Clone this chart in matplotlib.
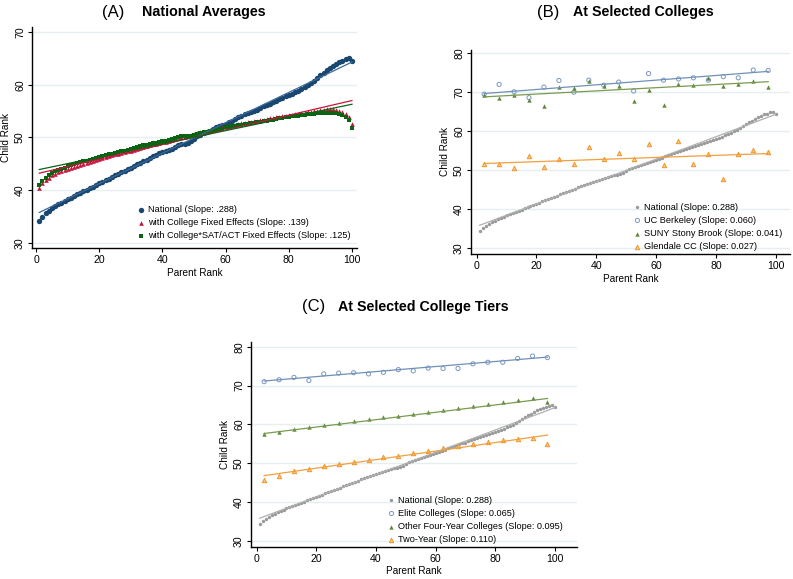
import numpy as np
import matplotlib
matplotlib.use("Agg")
import matplotlib.pyplot as plt

plt.rcParams['font.family'] = ['Liberation Sans', 'DejaVu Sans']

# ---------------- data ----------------
parent_rank = list(range(1, 101))
national = [34.2, 35.0, 35.7, 36.1, 36.6, 37.0, 37.3, 37.6, 38.0, 38.3,
            38.6, 38.9, 39.2, 39.5, 39.8, 40.1, 40.4, 40.7, 41.0, 41.3,
            41.6, 41.9, 42.2, 42.5, 42.8, 43.1, 43.4, 43.7, 44.0, 44.3,
            44.6, 44.9, 45.2, 45.5, 45.8, 46.1, 46.4, 46.7, 47.0, 47.2,
            47.4, 47.6, 47.9, 48.2, 48.5, 48.7, 48.8, 48.9, 49.3, 49.8,
            50.2, 50.5, 50.8, 51.0, 51.3, 51.6, 51.9, 52.1, 52.3, 52.6,
            52.9, 53.2, 53.5, 53.8, 54.1, 54.4, 54.6, 54.8, 55.1, 55.3,
            55.6, 55.9, 56.2, 56.4, 56.7, 57.0, 57.2, 57.5, 57.8, 58.0,
            58.3, 58.6, 58.9, 59.2, 59.5, 59.9, 60.3, 60.8, 61.3, 61.8,
            62.3, 62.7, 63.2, 63.6, 64.0, 64.3, 64.5, 64.8, 65.0, 64.5]
college_fe = [40.5, 41.3, 41.9, 42.4, 42.8, 43.1, 43.4, 43.6, 43.8, 44.0,
              44.2, 44.4, 44.6, 44.8, 45.0, 45.2, 45.4, 45.6, 45.8, 45.9,
              46.1, 46.3, 46.4, 46.6, 46.8, 46.9, 47.1, 47.2, 47.4, 47.5,
              47.7, 47.9, 48.0, 48.2, 48.4, 48.5, 48.7, 48.8, 49.0, 49.1,
              49.2, 49.3, 49.5, 49.8, 50.0, 50.1, 50.1, 50.2, 50.4, 50.6,
              50.8, 51.0, 51.1, 51.2, 51.4, 51.5, 51.7, 51.8, 52.0, 52.1,
              52.2, 52.3, 52.4, 52.6, 52.7, 52.8, 52.9, 53.0, 53.1, 53.2,
              53.3, 53.4, 53.5, 53.6, 53.7, 53.8, 53.9, 54.0, 54.1, 54.2,
              54.3, 54.4, 54.5, 54.6, 54.7, 54.8, 54.9, 55.0, 55.1, 55.2,
              55.3, 55.4, 55.4, 55.4, 55.3, 55.1, 54.8, 54.4, 53.9, 52.5]
college_sat_fe = [40.9, 41.8, 42.4, 42.9, 43.3, 43.6, 43.9, 44.1, 44.3, 44.5,
                  44.7, 44.9, 45.1, 45.3, 45.5, 45.6, 45.8, 46.0, 46.2, 46.3,
                  46.5, 46.6, 46.8, 46.9, 47.1, 47.2, 47.4, 47.5, 47.7, 47.8,
                  48.0, 48.2, 48.3, 48.5, 48.6, 48.8, 48.9, 49.0, 49.2, 49.3,
                  49.4, 49.5, 49.7, 49.9, 50.1, 50.2, 50.2, 50.2, 50.3, 50.5,
                  50.7, 50.9, 51.0, 51.1, 51.2, 51.4, 51.5, 51.6, 51.7, 51.9,
                  52.0, 52.1, 52.2, 52.3, 52.4, 52.5, 52.6, 52.7, 52.8, 52.9,
                  53.0, 53.1, 53.2, 53.3, 53.4, 53.5, 53.6, 53.7, 53.8, 53.9,
                  54.0, 54.0, 54.1, 54.2, 54.3, 54.4, 54.4, 54.5, 54.6, 54.6,
                  54.7, 54.7, 54.7, 54.7, 54.6, 54.5, 54.2, 53.9, 53.4, 51.8]

# fitted lines (intercept, slope)
fit_national = (35.5, 0.288)
fit_college_fe = (43.1, 0.139)
fit_college_sat_fe = (43.8, 0.125)

bin_rank = [2.5, 7.5, 12.5, 17.5, 22.5, 27.5, 32.5, 37.5, 42.5, 47.5,
            52.5, 57.5, 62.5, 67.5, 72.5, 77.5, 82.5, 87.5, 92.5, 97.5]
berkeley = [69.5, 72.0, 70.1, 68.6, 71.3, 73.0, 70.0, 73.1, 71.8, 72.6,
            70.3, 74.8, 73.1, 73.4, 73.7, 73.1, 74.0, 73.7, 75.7, 75.6]
stony_brook = [69.3, 68.5, 69.2, 68.0, 66.5, 71.4, 71.2, 73.0, 71.7, 71.7,
               67.8, 70.5, 66.6, 72.2, 71.8, 73.6, 71.6, 72.1, 72.9, 71.3]
glendale = [51.5, 51.5, 50.6, 53.7, 50.8, 52.7, 51.6, 56.0, 52.9, 54.4,
            52.9, 56.7, 51.2, 57.4, 51.6, 54.0, 47.8, 54.0, 55.2, 54.7]
fit_berkeley = (69.5, 0.060)
fit_stony_brook = (68.7, 0.041)
fit_glendale = (51.6, 0.027)

elite = [71.0, 71.5, 72.1, 71.3, 73.0, 73.2, 73.3, 73.0, 73.4, 74.1,
         73.8, 74.5, 74.4, 74.4, 75.6, 76.0, 76.0, 77.0, 77.6, 77.2]
other_four = [57.4, 58.0, 58.9, 59.4, 59.8, 60.3, 60.8, 61.4, 61.8, 62.1,
              62.6, 63.2, 63.8, 64.2, 64.7, 65.3, 65.7, 66.3, 66.9, 65.7]
two_year = [45.6, 46.8, 47.9, 48.5, 49.2, 49.8, 50.4, 50.9, 51.5, 51.9,
            52.6, 53.2, 53.8, 54.4, 54.9, 55.4, 55.9, 56.3, 56.4, 54.9]
fit_elite = (71.0, 0.065)
fit_other_four = (57.4, 0.095)
fit_two_year = (46.5, 0.110)

labels_a = ['National (Slope: .288)',
            'with College Fixed Effects (Slope: .139)',
            'with College*SAT/ACT Fixed Effects (Slope: .125)']
labels_b = ['National (Slope: 0.288)', 'UC Berkeley (Slope: 0.060)',
            'SUNY Stony Brook (Slope: 0.041)', 'Glendale CC (Slope: 0.027)']
labels_c = ['National (Slope: 0.288)', 'Elite Colleges (Slope: 0.065)',
            'Other Four-Year Colleges (Slope: 0.095)', 'Two-Year (Slope: 0.110)']

# ---------------- style ----------------
W, H = 793, 579
fig = plt.figure(figsize=(W / 100, H / 100), dpi=100)

def px_axes(l, r, t, b):
    return fig.add_axes([l / W, 1 - b / H, (r - l) / W, (b - t) / H])

GRID = '#e6eef0'
NAVY = '#1a476f'
RED = '#c8143c'
DGREEN = '#0a6414'
GRAY = '#9a9a9a'
LBLUE = '#7a98c0'
MGREEN = '#5e8a3c'
ORANGE = '#f2962a'
LEG_FS = 6.6

def style_axes(ax, yticks):
    ax.set_yticks(yticks)
    ax.set_xticks([0, 20, 40, 60, 80, 100])
    for s in ['top', 'right']:
        ax.spines[s].set_visible(False)
    for s in ['left', 'bottom']:
        ax.spines[s].set_linewidth(1.0)
        ax.spines[s].set_color('black')
    ax.tick_params(axis='both', labelsize=7.6, length=3, width=0.8, pad=2)
    ax.tick_params(axis='y', labelrotation=90)
    for lab in ax.get_yticklabels():
        lab.set_va('center')
    ax.yaxis.grid(True, color=GRID, lw=1.0)
    ax.set_axisbelow(True)
    ax.set_xlabel('Parent Rank', fontsize=7.2, labelpad=2)
    ax.set_ylabel('Child Rank', fontsize=7.2, labelpad=3)

def fitline(ax, xs, fit, color, lw=0.9):
    x = np.array([xs[0], xs[-1]], dtype=float)
    ax.plot(x, fit[0] + fit[1] * x, color=color, lw=lw, zorder=4)

def legend(ax, xa, ya):
    ax.legend(loc='lower left', bbox_to_anchor=(xa, ya), frameon=False, fontsize=LEG_FS,
              handletextpad=0.15, labelspacing=0.45, borderpad=0, handlelength=1.2)

# ---------------- panel A ----------------
axA = px_axes(32, 357, 26.7, 248)
axA.scatter(parent_rank, national, s=15, color=NAVY, marker='o', lw=0, zorder=3, label=labels_a[0])
axA.scatter(parent_rank, college_fe, s=11, color=RED, marker='^', lw=0, zorder=3, label=labels_a[1])
axA.scatter(parent_rank, college_sat_fe, s=9, color=DGREEN, marker='s', lw=0, zorder=3, label=labels_a[2])
fitline(axA, parent_rank, fit_national, '#3a6a9a')
fitline(axA, parent_rank, fit_college_fe, RED)
fitline(axA, parent_rank, fit_college_sat_fe, DGREEN)
axA.set_xlim(-1.3, 101.6)
axA.set_ylim(29.05, 71)
style_axes(axA, [30, 40, 50, 60, 70])
legend(axA, 0.305, 0.014)

# ---------------- panel B ----------------
axB = px_axes(471, 790, 50, 254)
axB.scatter(parent_rank, national, s=6, color=GRAY, marker='o', lw=0, zorder=3, label=labels_b[0])
axB.scatter(bin_rank, berkeley, s=9, facecolor='none', edgecolor=LBLUE, marker='o', lw=0.7, zorder=3, label=labels_b[1])
axB.scatter(bin_rank, stony_brook, s=10, color=MGREEN, marker='^', lw=0, zorder=3, label=labels_b[2])
axB.scatter(bin_rank, glendale, s=10, facecolor='#f8c888', edgecolor=ORANGE, marker='^', lw=0.7, zorder=3, label=labels_b[3])
fitline(axB, parent_rank, fit_national, '#b0b0b0')
fitline(axB, bin_rank, fit_berkeley, '#7090b8')
fitline(axB, bin_rank, fit_stony_brook, '#7a9a50')
fitline(axB, bin_rank, fit_glendale, '#f0a040')
axB.set_xlim(-1.9, 104.8)
axB.set_ylim(28.4, 80.85)
style_axes(axB, [30, 40, 50, 60, 70, 80])
legend(axB, 0.49, -0.008)

# ---------------- panel C ----------------
axC = px_axes(251, 577, 341.7, 546.7)
axC.scatter(parent_rank, national, s=6, color=GRAY, marker='o', lw=0, zorder=3, label=labels_c[0])
axC.scatter(bin_rank, elite, s=9, facecolor='none', edgecolor=LBLUE, marker='o', lw=0.7, zorder=3, label=labels_c[1])
axC.scatter(bin_rank, other_four, s=10, color=MGREEN, marker='^', lw=0, zorder=3, label=labels_c[2])
axC.scatter(bin_rank, two_year, s=10, facecolor='#f8c888', edgecolor=ORANGE, marker='^', lw=0.7, zorder=3, label=labels_c[3])
fitline(axC, parent_rank, fit_national, '#b0b0b0')
fitline(axC, bin_rank, fit_elite, '#7090b8')
fitline(axC, bin_rank, fit_other_four, '#7a9a50')
fitline(axC, bin_rank, fit_two_year, '#f0a040')
axC.set_xlim(-1.9, 107.4)
axC.set_ylim(28.45, 81.3)
style_axes(axC, [30, 40, 50, 60, 70, 80])
legend(axC, 0.40, -0.01)

# ---------------- titles ----------------
def title(xp, xb, yp, tag, txt):
    fig.text(xp / W, 1 - yp / H, tag, fontsize=12, ha='left', va='center')
    fig.text(xb / W, 1 - yp / H, txt, fontsize=10.3, fontweight='bold', ha='left', va='center')

title(102, 142, 12, '(A)', 'National Averages')
title(537, 573, 12, '(B)', 'At Selected Colleges')
title(302, 338, 307, '(C)', 'At Selected College Tiers')

fig.savefig('out.png', dpi=100)
